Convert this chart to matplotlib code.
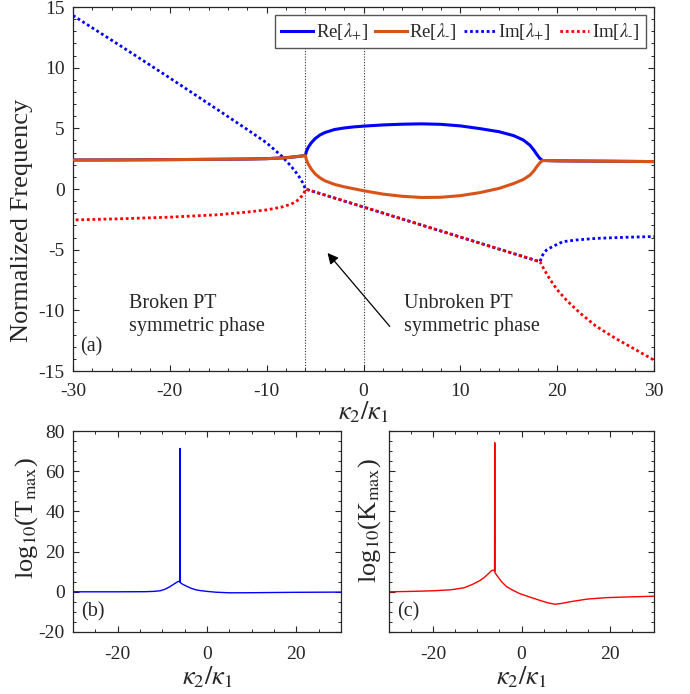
import matplotlib
matplotlib.use("Agg")
import matplotlib.pyplot as plt
from matplotlib.ticker import MultipleLocator

plt.rcParams['font.family'] = ['Liberation Serif', 'DejaVu Serif']
plt.rcParams['mathtext.fontset'] = 'stix'
plt.rcParams['axes.unicode_minus'] = False
plt.rcParams['text.color'] = '#262626'
plt.rcParams['axes.labelcolor'] = '#262626'
plt.rcParams['xtick.color'] = '#262626'
plt.rcParams['ytick.color'] = '#262626'

# ---------------- data: panel (a) ----------------
k_re_plus = [-30, -25, -20, -15, -12, -10, -8, -7, -6,
             -5.9, -5.7, -5.4, -5.0, -4.5, -4, -3, -2, -1, 0, 2, 4, 6, 8, 10, 12, 14,
             15.5, 16.5, 17.2, 17.6, 17.9, 18.2, 18.5, 20, 25, 30]
re_plus = [2.39, 2.40, 2.42, 2.45, 2.47, 2.50, 2.58, 2.66, 2.76,
           3.10, 3.45, 3.80, 4.15, 4.45, 4.65, 4.90, 5.03, 5.12, 5.18, 5.28, 5.34, 5.37, 5.33, 5.20, 4.98, 4.72,
           4.40, 4.04, 3.60, 3.20, 2.85, 2.53, 2.35, 2.32, 2.29, 2.26]

k_re_minus = [-30, -25, -20, -15, -12, -10, -8, -7, -6,
              -5.9, -5.7, -5.4, -5.0, -4.5, -4, -3, -2, -1, 0, 2, 4, 6, 8, 10, 12, 14,
              15.5, 16.5, 17.2, 17.6, 17.9, 18.2, 18.5, 20, 25, 30]
re_minus = [2.39, 2.40, 2.42, 2.45, 2.47, 2.50, 2.58, 2.66, 2.76,
            2.40, 2.05, 1.65, 1.25, 0.92, 0.68, 0.38, 0.18, 0.02, -0.14, -0.42, -0.60, -0.70, -0.68, -0.55, -0.30, 0.05,
            0.45, 0.78, 1.15, 1.50, 1.85, 2.15, 2.35, 2.32, 2.29, 2.26]

k_im_plus = [-30, -25, -20, -15, -12, -10, -8.5, -7.5, -7, -6.6, -6.3, -6.1, -6.0,
             18.23, 18.4, 18.6, 18.9, 19.5, 20.6, 22, 24, 27, 30]
im_plus = [14.3, 11.75, 9.15, 6.5, 4.9, 3.8, 2.75, 1.9, 1.4, 0.95, 0.55, 0.2, 0.0,
           -6.0, -5.6, -5.3, -5.03, -4.75, -4.34, -4.2, -4.07, -3.98, -3.92]

k_im_minus = [-30, -25, -20, -15, -12, -10, -8.5, -7.5, -7, -6.6, -6.3, -6.1, -6.0,
              18.23, 18.7, 19.3, 20, 21, 22.4, 24, 26, 28, 30]
im_minus = [-2.55, -2.45, -2.32, -2.12, -1.9, -1.72, -1.5, -1.25, -1.05, -0.8, -0.5, -0.25, 0.0,
            -6.0, -6.7, -7.5, -8.3, -9.2, -10.25, -11.3, -12.3, -13.2, -14.1]

ep_lines = [-6, 0]

legend_labels = [r'Re[$\lambda_{+}$]', r'Re[$\lambda_{\text{-}}$]', r'Im[$\lambda_{+}$]', r'Im[$\lambda_{\text{-}}$]']

# ---------------- data: panel (b) ----------------
k_T = [-30, -20, -14, -12, -10.5, -9.5, -8.5, -7.5, -6.8, -6.4, -6.1, -6.05, -6.0,
       -5.5, -4.5, -3.5, -2.5, -1.5, 0, 2, 5, 10, 20, 30]
log_T = [0, 0, 0.05, 0.2, 0.5, 1.2, 2.3, 3.7, 4.7, 5.2, 5.0, 71.3, 4.6,
         3.8, 2.7, 1.7, 1.0, 0.6, 0.2, -0.2, -0.5, -0.45, -0.25, -0.15]

# ---------------- data: panel (c) ----------------
k_K = [-30, -25, -20, -16, -13, -11, -9.5, -8.5, -7.5, -6.8, -6.4, -6.1, -6.05, -6.0,
       -5.5, -4.5, -3.4, -2, -0.3, 2, 4.2, 6, 7.6, 9, 11.7, 15, 19.3, 25, 30]
log_K = [0, 0.2, 0.5, 1.0, 2.0, 3.8, 5.5, 7.0, 9.0, 10.5, 10.8, 10.3, 74.2, 9.5,
         7.9, 5.0, 2.6, 0.8, -1.0, -2.7, -4.3, -5.5, -6.2, -5.8, -4.7, -3.6, -2.9, -2.5, -2.2]

BLUE = '#0000FF'
ORANGE = '#D95319'
RED = '#FF0000'
SPINE = '#262626'

fig = plt.figure(figsize=(6.9, 6.94), dpi=100)

W, H = 690, 694
def axes_px(x0, y0, x1, y1):
    return fig.add_axes([x0 / W, 1 - y1 / H, (x1 - x0) / W, (y1 - y0) / H])

ax = axes_px(73, 7, 654, 371)
axb = axes_px(73, 431, 341, 632)
axc = axes_px(389, 431, 654, 632)

def style(a, xpad):
    for s in a.spines.values():
        s.set_color(SPINE)
        s.set_linewidth(0.9)
    a.tick_params(which='both', direction='in', top=True, right=True, labelsize=14)
    a.tick_params(which='major', length=4, width=0.8)
    a.tick_params(which='minor', length=2.2, width=0.7)
    a.tick_params(axis='x', which='major', pad=xpad)
    a.tick_params(axis='y', which='major', pad=6)

# panel (a)
for xv in ep_lines:
    ax.axvline(xv, color='#333333', lw=0.8, ls=(0, (1, 1.5)), zorder=1)
ax.plot(k_re_plus, re_plus, color=BLUE, lw=2.2, label=legend_labels[0], zorder=3)
ax.plot(k_re_minus, re_minus, color=ORANGE, lw=2.2, label=legend_labels[1], zorder=4)
ax.plot(k_im_plus, im_plus, color=BLUE, lw=2.0, ls=(0, (1, 1)), label=legend_labels[2], zorder=3)
ax.plot(k_im_minus, im_minus, color=RED, lw=2.0, ls=(1, (1, 1)), label=legend_labels[3], zorder=4)
ax.set_xlim(-30, 30)
ax.set_ylim(-15, 15)
ax.xaxis.set_major_locator(MultipleLocator(10))
ax.xaxis.set_minor_locator(MultipleLocator(2))
ax.yaxis.set_major_locator(MultipleLocator(5))
ax.yaxis.set_minor_locator(MultipleLocator(1))
style(ax, 8.5)
ax.set_ylabel('Normalized Frequency', fontsize=19)
ax.yaxis.set_label_coords(-0.069, 0.415)
ax.set_xlabel(r'$\kappa_2/\kappa_1$', fontsize=19, labelpad=0)
leg = ax.legend(loc='upper right', ncol=4, fontsize=13.5, handlelength=1.7, handletextpad=0.15,
                columnspacing=0.35, borderpad=0.3, borderaxespad=0.45, frameon=True, fancybox=False)
leg.get_frame().set_edgecolor('#555555')
leg.get_frame().set_linewidth(1.0)
leg.get_frame().set_alpha(1)
ax.text(-24.2, -10.4, 'Broken PT\nsymmetric phase', fontsize=14.5, va='center', ha='left', linespacing=1.25)
ax.text(4.2, -10.4, 'Unbroken PT\nsymmetric phase', fontsize=14.5, va='center', ha='left', linespacing=1.25)
ax.annotate('', xy=(-3.9, -5.1), xytext=(2.9, -11.5),
            arrowprops=dict(arrowstyle='-|>', color='black', lw=0.9, mutation_scale=16))
ax.text(0.012, 0.04, '(a)', transform=ax.transAxes, fontsize=14.5, ha='left', va='bottom')

# panel (b)
axb.plot(k_T, log_T, color=BLUE, lw=1.0)
axb.set_xlim(-30, 30)
axb.set_ylim(-20, 80)
axb.set_xticks([-20, 0, 20])
axb.xaxis.set_minor_locator(MultipleLocator(5))
axb.yaxis.set_major_locator(MultipleLocator(20))
axb.yaxis.set_minor_locator(MultipleLocator(5))
style(axb, 10)
axb.set_ylabel(r'log$_{10}$(T$_{\mathrm{max}}$)', fontsize=19)
axb.yaxis.set_label_coords(-0.123, 0.567)
axb.set_xlabel(r'$\kappa_2/\kappa_1$', fontsize=19, labelpad=1)
axb.text(0.03, 0.1, '(b)', transform=axb.transAxes, fontsize=14.5, ha='left', va='center')

# panel (c)
axc.plot(k_K, log_K, color=RED, lw=1.0)
axc.set_xlim(-30, 30)
axc.set_ylim(-20, 80)
axc.set_xticks([-20, 0, 20])
axc.xaxis.set_minor_locator(MultipleLocator(5))
axc.yaxis.set_major_locator(MultipleLocator(20))
axc.yaxis.set_minor_locator(MultipleLocator(5))
style(axc, 10)
axc.tick_params(labelleft=False)
axc.set_ylabel(r'log$_{10}$(K$_{\mathrm{max}}$)', fontsize=19)
axc.yaxis.set_label_coords(-0.023, 0.555)
axc.set_xlabel(r'$\kappa_2/\kappa_1$', fontsize=19, labelpad=1)
axc.text(0.03, 0.1, '(c)', transform=axc.transAxes, fontsize=14.5, ha='left', va='center')

fig.savefig('out.png', dpi=100)
